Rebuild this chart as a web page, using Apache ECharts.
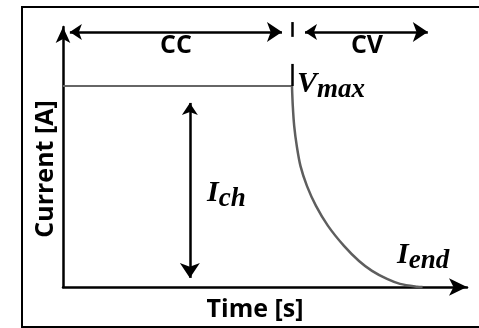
<!DOCTYPE html>
<html><head><meta charset="utf-8">
<script src="https://cdn.jsdelivr.net/npm/echarts@6/dist/echarts.min.js"></script>
<style>html,body{margin:0;padding:0;background:#fff}#c{width:479px;height:328px}</style>
</head><body><div id="c"></div>
<script>
// ---- Data (both axes run 0..100, arbitrary units) ----
const ccLineX = [0, 56.7];
const ccLineY = [77.3, 77.3];
const cvCurveX = [56.68, 56.88, 57.23, 57.87, 58.79, 60.40, 62.62, 65.59, 69.55, 73.27, 76.49, 80.20, 83.42, 87.62, 89.0];
const cvCurveY = [77.3, 69.6, 61.9, 54.2, 46.5, 38.8, 31.2, 23.5, 15.8, 10.0, 6.2, 3.1, 1.2, 0.1, 0];
const phaseArrowY = 98.1;
const ccArrowX = [1.7, 54.2];
const cvArrowX = [59.9, 90.3];
const ichArrowX = 31.4;
const ichArrowY = [70.8, 3.5];
const dividerX = 56.7;
const dividerTopY = [101.9, 96.2];
const dividerLowY = [85.8, 77.3];
const phaseLabels = ['CC', 'CV'];
const axisNames = ['Time [s]', 'Current [A]'];
const mathLabels = [['V', 'max'], ['I', 'ch'], ['I', 'end']];

const sans = '"Open Sans", sans-serif';
const serif = '"Liberation Serif", serif';

const chart = echarts.init(document.getElementById('c'), null, {renderer: 'canvas'});

function mathText(pair, x, y) {
  return {
    type: 'text', x: x, y: y, silent: true, z: 10,
    style: {
      text: '{m|' + pair[0] + '}{s|' + pair[1] + '}',
      align: 'left', verticalAlign: 'top', fill: '#000',
      rich: {
        m: {fontFamily: serif, fontStyle: 'italic', fontWeight: 'bold', fontSize: 30, lineHeight: 32, fill: '#000'},
        s: {fontFamily: serif, fontStyle: 'italic', fontWeight: 'bold', fontSize: 27, lineHeight: 32, padding: [12, 0, 0, 0], fill: '#000'}
      }
    }
  };
}

const option = {
  animation: false,
  grid: {left: 63, right: 12, top: 27, bottom: 41, containLabel: false},
  xAxis: {
    type: 'value', min: 0, max: 100,
    name: axisNames[0], nameLocation: 'middle', nameGap: 10,
    nameTextStyle: {fontFamily: sans, fontWeight: 'bold', fontSize: 25, color: '#000', padding: [0, 20, 0, 0]},
    axisLine: {show: true, onZero: false, symbol: ['none', 'arrow'], symbolSize: [13, 18], lineStyle: {color: '#000', width: 2.5}},
    axisTick: {show: false}, axisLabel: {show: false}, splitLine: {show: false}
  },
  yAxis: {
    type: 'value', min: 0, max: 100,
    name: axisNames[1], nameLocation: 'middle', nameRotate: 90, nameGap: 5,
    nameTextStyle: {fontFamily: sans, fontWeight: 'bold', fontSize: 25, color: '#000', padding: [0, 24, 0, 0]},
    axisLine: {show: true, onZero: false, symbol: ['none', 'arrow'], symbolSize: [11, 16], lineStyle: {color: '#000', width: 2.5}},
    axisTick: {show: false}, axisLabel: {show: false}, splitLine: {show: false}
  },
  series: [
    {
      name: 'CC', type: 'line', symbol: 'none', clip: false, silent: true, z: 3,
      data: ccLineX.map((x, i) => [x, ccLineY[i]]),
      lineStyle: {color: '#666666', width: 2}
    },
    {
      name: 'CV', type: 'line', symbol: 'none', clip: false, silent: true, smooth: 0.3, z: 3,
      data: cvCurveX.map((x, i) => [x, cvCurveY[i]]),
      lineStyle: {color: '#5e5e5e', width: 2.5}
    },
    {
      name: 'arrows', type: 'lines', coordinateSystem: 'cartesian2d', clip: false, silent: true, z: 4,
      symbol: ['arrow', 'arrow'], symbolSize: [12, 15],
      lineStyle: {color: '#000', width: 2.5, opacity: 1},
      data: [
        {coords: [[ccArrowX[0], phaseArrowY], [ccArrowX[1], phaseArrowY]]},
        {coords: [[cvArrowX[0], phaseArrowY], [cvArrowX[1], phaseArrowY]]},
        {coords: [[ichArrowX, ichArrowY[0]], [ichArrowX, ichArrowY[1]]]}
      ]
    },
    {
      name: 'divider', type: 'lines', coordinateSystem: 'cartesian2d', clip: false, silent: true, z: 4,
      symbol: ['none', 'none'],
      lineStyle: {color: '#000', width: 2.5, opacity: 1},
      data: [
        {coords: [[dividerX, dividerTopY[0]], [dividerX, dividerTopY[1]]]},
        {coords: [[dividerX, dividerLowY[0]], [dividerX, dividerLowY[1]]]}
      ]
    }
  ],
  graphic: [
    {type: 'rect', silent: true, z: 0, shape: {x: 22, y: 7, width: 480, height: 320},
     style: {fill: 'none', stroke: '#000', lineWidth: 2}},
    {type: 'text', x: 176, y: 46, silent: true,
     style: {text: phaseLabels[0], align: 'center', verticalAlign: 'middle', font: 'bold 25px ' + sans, fill: '#000'}},
    {type: 'text', x: 367, y: 46, silent: true,
     style: {text: phaseLabels[1], align: 'center', verticalAlign: 'middle', font: 'bold 25px ' + sans, fill: '#000'}},
    mathText(mathLabels[0], 297, 68),
    mathText(mathLabels[1], 207, 177),
    mathText(mathLabels[2], 397, 239)
  ]
};
chart.setOption(option);
</script></body></html>
